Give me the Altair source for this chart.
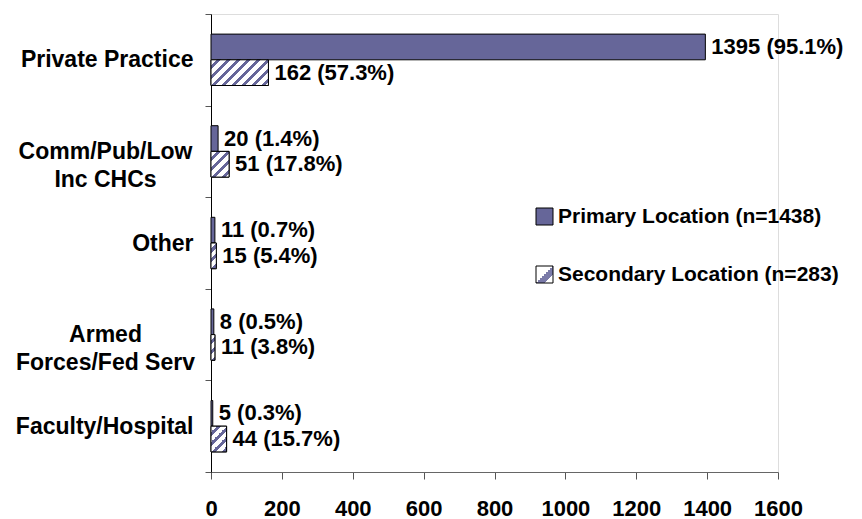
import math
import altair as alt

# ---- data ----
categories = [
    "Private Practice",
    "Comm/Pub/Low\nInc CHCs",
    "Other",
    "Armed\nForces/Fed Serv",
    "Faculty/Hospital",
]
series_names = ["Primary Location (n=1438)", "Secondary Location (n=283)"]
primary_counts = [1395, 20, 11, 8, 5]
primary_pct = ["95.1", "1.4", "0.7", "0.5", "0.3"]
secondary_counts = [162, 51, 15, 11, 44]
secondary_pct = ["57.3", "17.8", "5.4", "3.8", "15.7"]
x_ticks = [0, 200, 400, 600, 800, 1000, 1200, 1400, 1600]

# ---- layout / style ----
W_PLOT, H_PLOT = 567, 458
X_MAX = 1600
BAR_H = 25.7
PURPLE = "#666699"
FONT = "Liberation Sans"
STRIPE_PERIOD = 10.0
STRIPE_FRAC = 0.42

step = H_PLOT / len(categories)
off_pad = (step / BAR_H - 2) / 2


def hatch(value):
    """Diagonal '/' hatch as a bounding-box linear gradient for one bar."""
    w = max(value * W_PLOT / X_MAX, 0.5)
    h = BAR_H
    k = (w + h) / (w + h * h / w)
    n = (w + h) / STRIPE_PERIOD
    stops = []
    i = 0
    while i / n < 1:
        a = i / n
        b = min((i + 1 - STRIPE_FRAC) / n, 1)
        c = min((i + 1) / n, 1)
        stops += [{"offset": a, "color": "#ffffff"}, {"offset": b, "color": "#ffffff"}]
        if b < 1:
            stops += [{"offset": b, "color": PURPLE}, {"offset": c, "color": PURPLE}]
        i += 1
    return {"gradient": "linear", "x1": 0, "y1": 0, "x2": k, "y2": k * h / w, "stops": stops}


records = []
for i, cat in enumerate(categories):
    records.append({
        "category": cat, "series": series_names[0], "value": primary_counts[i],
        "label": f"{primary_counts[i]} ({primary_pct[i]}%)",
    })
    records.append({
        "category": cat, "series": series_names[1], "value": secondary_counts[i],
        "label": f"{secondary_counts[i]} ({secondary_pct[i]}%)",
        "grad": hatch(secondary_counts[i]),
    })

data = alt.Data(values=records)

legend_hatch = (
    "{gradient: 'linear', x1: 0, y1: 0, x2: 1, y2: 1, stops: ["
    "{offset: 0, color: '#ffffff'}, {offset: 0.5, color: '#ffffff'},"
    "{offset: 0.5, color: '#7a7aa8'}, {offset: 0.75, color: '#7a7aa8'},"
    "{offset: 0.75, color: '#ffffff'}, {offset: 1, color: '#ffffff'}]}"
)

MULTI = "isString(datum.value) && length(split(datum.value, '\\n')) > 1"

x_enc = alt.X(
    "value:Q",
    scale=alt.Scale(domain=[0, X_MAX], nice=False, zero=True),
    axis=alt.Axis(
        values=x_ticks, format="d", title=None, grid=False, tickSize=7, labelPadding=19,
        labelFontSize=22, labelFont=FONT, labelFontWeight="bold", labelColor="#000",
        domainColor="#666", tickColor="#555", labelFlush=False,
    ),
)
y_enc = alt.Y(
    "category:N",
    sort=categories,
    scale=alt.Scale(paddingInner=0, paddingOuter=0),
    axis=alt.Axis(
        title=None, tickBand="extent", tickSize=6, domainColor="#000", tickColor="#555",
        labelFontSize=23, labelFont=FONT, labelFontWeight="bold", labelColor="#000",
        labelLineHeight=28, labelLimit=400, labelBaseline="middle",
        labelExpr="isString(datum.value) ? split(datum.value, '\\n') : ''",
        labelAlign={"condition": {"test": MULTI, "value": "center"}, "value": "right"},
        labelPadding={"condition": {"test": MULTI, "value": 100}, "value": 12},
    ),
)
yoff_enc = alt.YOffset(
    "series:N", sort=series_names,
    scale=alt.Scale(paddingInner=0, paddingOuter=off_pad),
)

bars = alt.Chart(data).mark_bar(stroke="#000", strokeWidth=1).encode(
    x=x_enc,
    y=y_enc,
    yOffset=yoff_enc,
    color=alt.Color(
        "series:N",
        sort=series_names,
        scale=alt.Scale(domain=series_names, range=[PURPLE, alt.ExprRef(legend_hatch)]),
        legend=alt.Legend(
            title=None, orient="none", legendX=323, legendY=192, padding=0,
            rowPadding=36, symbolType="square", symbolSize=289,
            symbolStrokeColor="#000", symbolStrokeWidth=1, labelOffset=3,
            labelFontSize=21, labelFont=FONT, labelFontWeight="bold",
            labelColor="#000", labelLimit=500,
        ),
    ),
)

hatched = alt.Chart(data).transform_filter(
    alt.datum.series == series_names[1]
).mark_bar(stroke="#000", strokeWidth=1).encode(
    x="value:Q",
    y=alt.Y("category:N", sort=categories),
    yOffset=alt.YOffset("series:N", sort=series_names),
    fill=alt.Fill("grad:N", scale=None, legend=None),
)

labels = alt.Chart(data).mark_text(
    align="left", baseline="middle", dx=6, fontSize=22, font=FONT,
    fontWeight="bold", color="#000",
).encode(
    x="value:Q",
    y=alt.Y("category:N", sort=categories),
    yOffset=alt.YOffset("series:N", sort=series_names),
    text="label:N",
)

chart = alt.layer(bars, hatched, labels).properties(
    width=W_PLOT, height=H_PLOT,
    autosize=alt.AutoSizeParams(type="none"),
    padding={"left": 203, "top": 6, "right": 76, "bottom": 47},
).configure_view(stroke=None).configure(background="#ffffff")

chart.save("out.html", embed_options={"renderer": "svg", "actions": False})
